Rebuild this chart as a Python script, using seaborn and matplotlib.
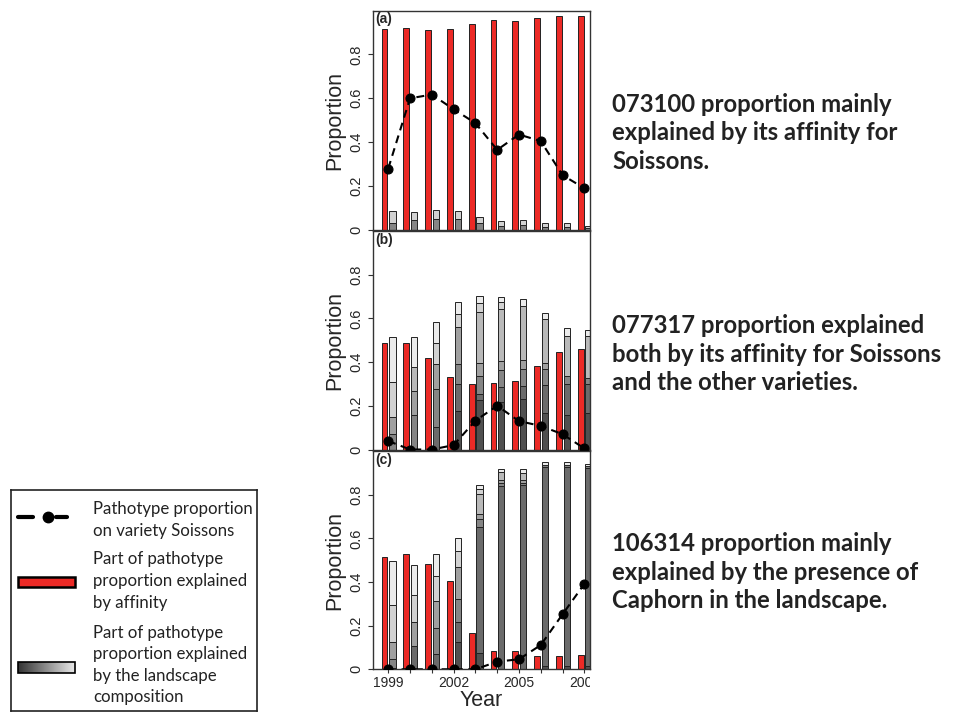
import numpy as np
import seaborn as sns
import matplotlib.pyplot as plt
from matplotlib.patches import Rectangle
from matplotlib.colors import LinearSegmentedColormap
from matplotlib.transforms import Bbox, TransformedBbox

years = np.arange(1999, 2009)
tick_labels = ['1999', '', '', '2002', '', '', '2005', '', '', '2008']

# affinity part (red bars)
red_a = [0.914, 0.918, 0.909, 0.914, 0.937, 0.956, 0.953, 0.968, 0.973, 0.976]
red_b = [0.486, 0.486, 0.420, 0.330, 0.298, 0.306, 0.315, 0.380, 0.448, 0.458]
red_c = [0.514, 0.529, 0.482, 0.405, 0.167, 0.085, 0.085, 0.061, 0.061, 0.066]

# pathotype proportion on Soissons (dashed line)
dot_a = [0.280, 0.600, 0.617, 0.550, 0.487, 0.365, 0.435, 0.405, 0.250, 0.190]
dot_b = [0.039, 0.000, 0.000, 0.020, 0.132, 0.200, 0.130, 0.108, 0.070, 0.005]
dot_c = [0.000, 0.000, 0.000, 0.000, 0.000, 0.035, 0.046, 0.111, 0.252, 0.391]

# landscape composition part, one row per variety (dark -> light)
zero = [0] * 10
grey_a = [zero, zero,
          [0.030, 0.045, 0.050, 0.050, 0.030, 0.020, 0.025, 0.015, 0.015, 0.010],
          zero, zero,
          [0.055, 0.035, 0.040, 0.035, 0.030, 0.023, 0.020, 0.015, 0.015, 0.010],
          zero]
grey_b = [[0, 0, 0, 0.178, 0.227, 0.216, 0.230, 0.168, 0.158, 0.166],
          [0, 0, 0.104, 0.120, 0.027, 0.071, 0.062, 0.127, 0.142, 0.134],
          [0.071, 0.158, 0.171, 0.092, 0.082, 0.077, 0.076, 0.072, 0.036, 0.029],
          [0.079, 0.110, 0.116, 0.172, 0.058, 0.041, 0.042, 0.027, 0, 0],
          [0, 0.110, 0, 0, 0.237, 0.238, 0.247, 0.202, 0.183, 0.190],
          [0.157, 0, 0.098, 0.058, 0.038, 0.031, 0, 0, 0, 0],
          [0.209, 0.138, 0.096, 0.055, 0.035, 0.022, 0.030, 0.027, 0.036, 0.028]]
grey_c = [[0, 0, 0, 0.127, 0.073, 0, 0, 0.015, 0.015, 0.015],
          [0, 0.107, 0.070, 0.091, 0.581, 0.841, 0.845, 0.912, 0.912, 0.906],
          [0.046, 0, 0.121, 0.106, 0.034, 0.012, 0.010, 0.010, 0.010, 0.009],
          [0.081, 0.111, 0.124, 0.144, 0.024, 0.012, 0.010, 0, 0, 0],
          [0, 0, 0, 0, 0.091, 0.041, 0.034, 0, 0, 0],
          [0.168, 0.123, 0.113, 0.076, 0.023, 0, 0, 0, 0, 0],
          [0.199, 0.137, 0.099, 0.057, 0.016, 0.013, 0.020, 0.011, 0.011, 0.012]]

shades = ['#505050', '#6b6b6b', '#858585', '#a0a0a0', '#b9b9b9', '#d2d2d2', '#ebebeb']
red = '#ec2a26'

notes = ['073100 proportion mainly\nexplained by its affinity for\nSoissons.',
         '077317 proportion explained\nboth by its affinity for Soissons\nand the other varieties.',
         '106314 proportion mainly\nexplained by the presence of\nCaphorn in the landscape.']

sns.set_theme(style="ticks")
plt.rcParams['font.family'] = ['Liberation Sans', 'DejaVu Sans']

fig = plt.figure(figsize=(9.59, 7.13), dpi=100)
W, H = 959, 713

panels = [('(a)', red_a, dot_a, grey_a, 10.5, 230),
          ('(b)', red_b, dot_b, grey_b, 231, 449.5),
          ('(c)', red_c, dot_c, grey_c, 451, 669.3)]
left, right = 373, 590

for i, (tag, reds, dots, greys, top, bot) in enumerate(panels):
    ax = fig.add_axes([left / W, 1 - bot / H, (right - left) / W, (bot - top) / H])
    ax.bar(years - 0.17, reds, width=0.27, color=red, edgecolor='#222222', linewidth=0.7, zorder=2)
    base = np.zeros(len(years))
    for k, seg in enumerate(greys):
        seg = np.array(seg)
        ax.bar(years + 0.19, seg, width=0.29, bottom=base, color=shades[k],
               edgecolor='#222222', linewidth=0.7 if seg.any() else 0, zorder=2)
        base = base + seg
    sns.lineplot(x=years, y=dots, ax=ax, color='black', linewidth=1.5,
                 marker='o', markersize=6.5, markeredgecolor='black', zorder=3)
    ax.lines[-1].set_dashes([3.8, 2.6])

    ax.set_xlim(1998.3, 2008.26)
    ax.set_ylim(0, 1.0)
    ax.set_yticks([0, 0.2, 0.4, 0.6, 0.8])
    ax.set_yticklabels(['0', '0.2', '0.4', '0.6', '0.8'], rotation=90, va='center', fontsize=10.5)
    ax.tick_params(axis='y', length=3.6, width=0.8, pad=3.5, color='#333333')
    ax.set_ylabel('Proportion', fontsize=15.5, labelpad=3)
    for s in ax.spines.values():
        s.set_visible(True)
        s.set_color('#333333')
        s.set_linewidth(1.0)
    ax.text(0.012, 0.992, tag, transform=ax.transAxes, fontsize=10,
            fontweight='bold', va='top', ha='left')
    if i < 2:
        ax.tick_params(axis='x', bottom=False, labelbottom=False)
    else:
        ax.set_xticks(years)
        ax.set_xticklabels(tick_labels, fontsize=10)
        ax.tick_params(axis='x', length=3, width=0.8, pad=1.5, color='#333333')
        ax.set_xlabel('Year', fontsize=15.5, labelpad=0)
        clip = TransformedBbox(Bbox([[0, 0], [right / W, 1]]), fig.transFigure)
        for lbl in ax.get_xticklabels():
            lbl.set_clip_box(clip)
            lbl.set_clip_on(True)

# notes on the right
for note, yc in zip(notes, [133, 354, 572]):
    fig.text(612 / W, 1 - yc / H, note, fontsize=17.2, fontweight='bold',
             family=['Lato', 'DejaVu Sans'], color='#222222', va='center', ha='left',
             linespacing=1.3)

# legend box
lax = fig.add_axes([11 / W, 1 - 711 / H, 246 / W, 221 / H])
cmap = LinearSegmentedColormap.from_list('grey_ramp', ['#333333', '#e8e8e8'])
lax.imshow(np.linspace(0, 1, 256)[None, :], cmap=cmap, extent=(7, 64, 183, 172), aspect='auto')
lax.add_patch(Rectangle((7, 172), 57, 11, fill=False, edgecolor='black', linewidth=1.2))
lax.add_patch(Rectangle((7, 87), 57, 10, facecolor=red, edgecolor='black', linewidth=1.8))
lax.plot([7, 22], [27, 27], color='black', linewidth=3)
lax.plot([45, 56], [27, 27], color='black', linewidth=3)
lax.plot([37], [27], 'o', color='black', markersize=7.5)
lax.set_xlim(0, 246)
lax.set_ylim(221, 0)
lax.set_xticks([])
lax.set_yticks([])
for s in lax.spines.values():
    s.set_color('#222222')
    s.set_linewidth(1.2)
leg_texts = ['Pathotype proportion\non variety Soissons',
             'Part of pathotype\nproportion explained\nby affinity',
             'Part of pathotype\nproportion explained\nby the landscape\ncomposition']
for txt, yc in zip(leg_texts, [30, 91, 175]):
    lax.text(82, yc, txt, fontsize=12.1, family=['Lato', 'DejaVu Sans'], color='#222222',
             va='center', ha='left', linespacing=1.43)

fig.savefig('out.png', dpi=100)
